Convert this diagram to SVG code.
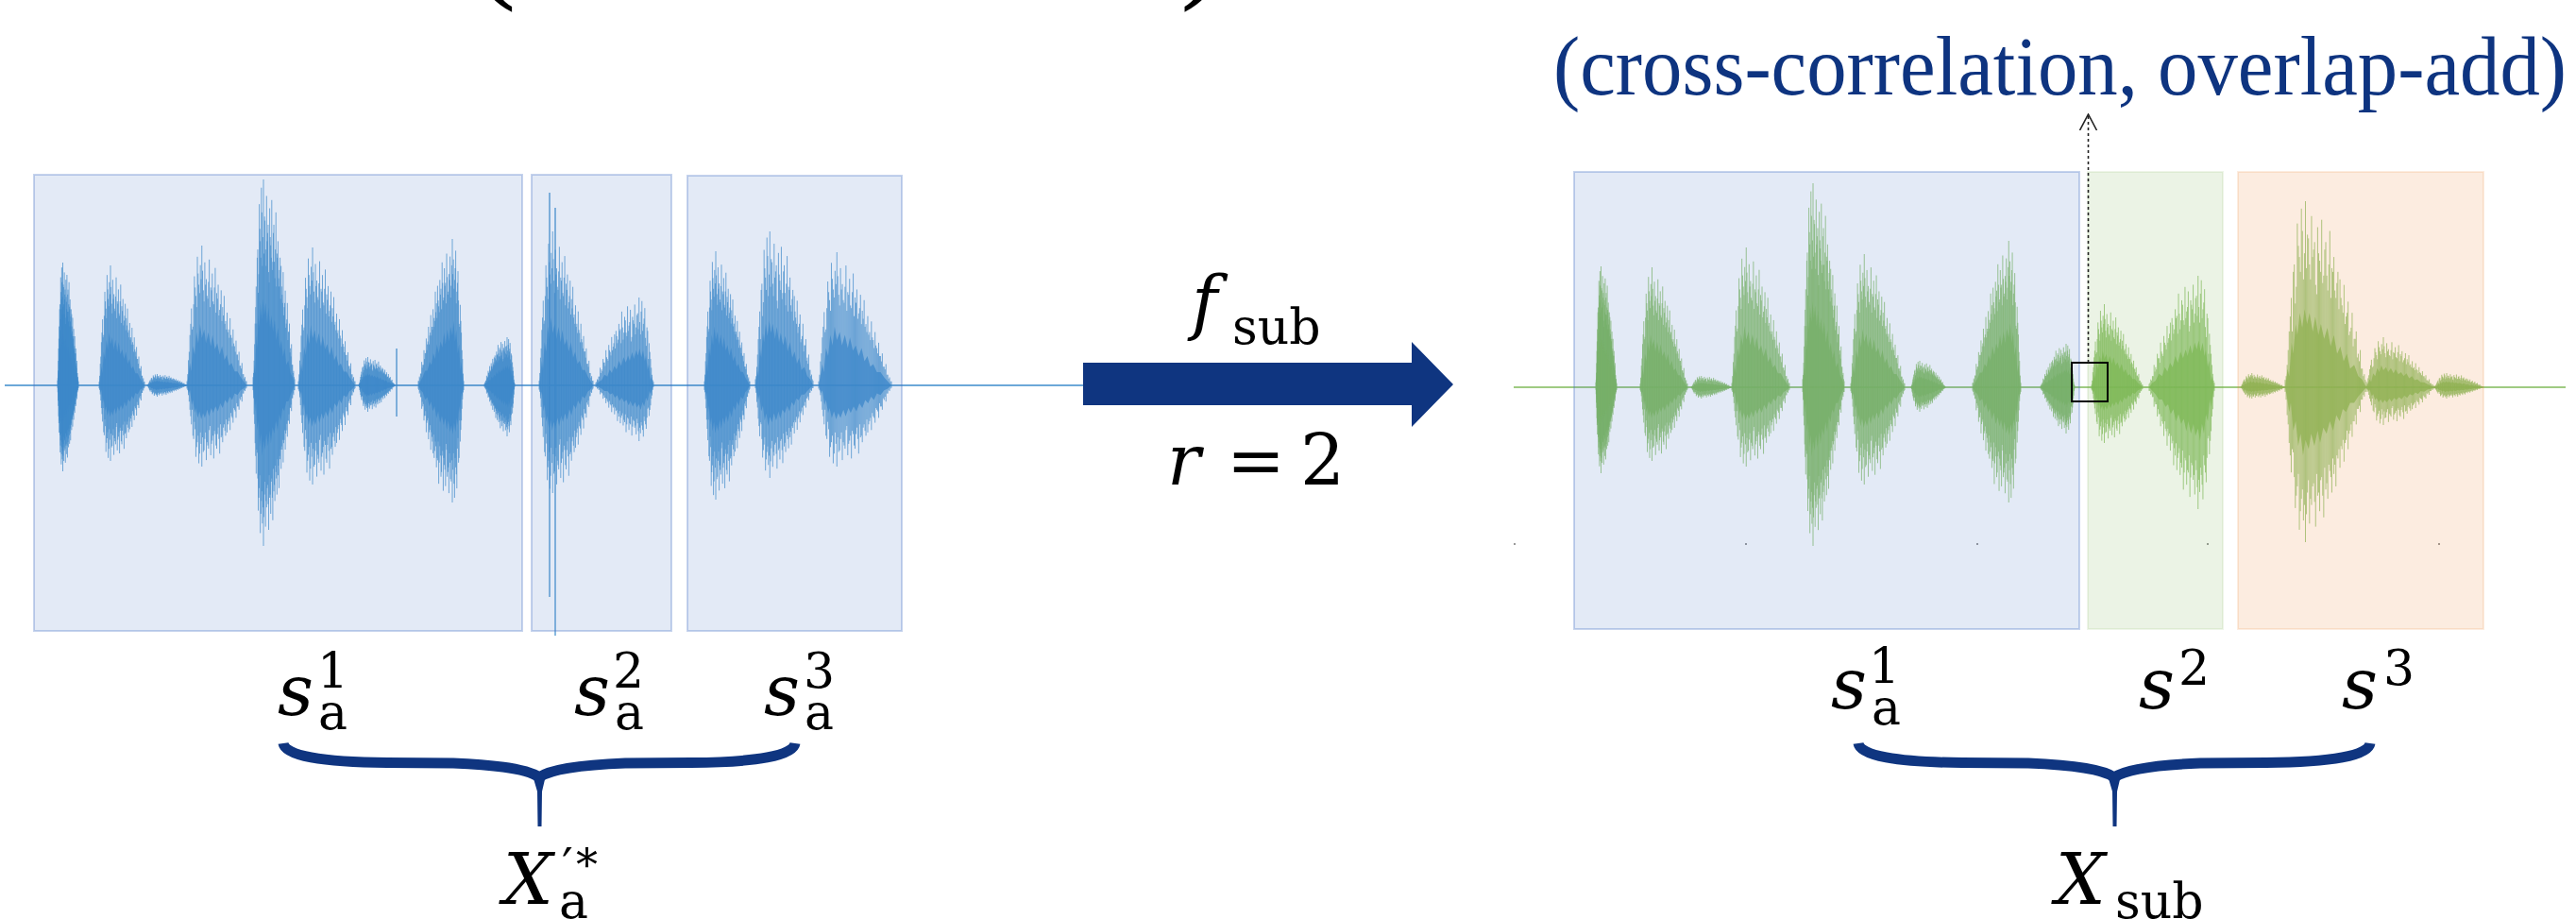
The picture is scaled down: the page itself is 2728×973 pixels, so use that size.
<svg xmlns="http://www.w3.org/2000/svg" width="2728" height="973" viewBox="0 0 2728 973">
<style>
.mi{font-family:"DejaVu Serif",serif;font-style:italic;fill:#000}
.up{font-family:"DejaVu Serif",serif;fill:#000}
.par{font-family:"Liberation Serif","DejaVu Serif",serif;fill:#000}
.title{font-family:"Liberation Serif","DejaVu Serif",serif;fill:#0e3480}
.ovB{fill:#4472c4;fill-opacity:.15;stroke:#4472c4;stroke-opacity:.3;stroke-width:2}
.ovG{fill:#70ad47;fill-opacity:.14;stroke:#70ad47;stroke-opacity:.12;stroke-width:2}
.ovO{fill:#ed7d31;fill-opacity:.15;stroke:#ed7d31;stroke-opacity:.15;stroke-width:2}
.navy{fill:#0f3580}
</style>
<defs>
<g id="hA">
<path fill="none" stroke="currentColor" stroke-width="1" stroke-opacity="0.7" vector-effect="non-scaling-stroke" d="M0 0V-4M2.5 0V-12M5 0V-30M7.5 0V-48M10 0V-62M12.5 0V-45M15 0V-88M17.5 0V-70M20 0V-96M22.5 0V-58M25 0V-100M27.5 0V-82M30 0V-66M32.5 0V-92M35 0V-74M37.5 0V-55M40 0V-86M42.5 0V-68M45 0V-90M47.5 0V-60M50 0V-78M52.5 0V-52M55 0V-84M57.5 0V-64M60 0V-70M62.5 0V-48M65 0V-62M67.5 0V-58M70 0V-44M72.5 0V-55M75 0V-38M77.5 0V-46M80 0V-30M82.5 0V-40M85 0V-26M87.5 0V-30M90 0V-18M92.5 0V-20M95 0V-10M97.5 0V-7M100 0V-3M1.25 0V-6M3.75 0V-20M6.25 0V-38M8.75 0V-30M11.25 0V-66M13.75 0V-54M16.25 0V-76M18.75 0V-62M21.25 0V-84M23.75 0V-72M26.25 0V-64M28.75 0V-80M31.25 0V-58M33.75 0V-70M36.25 0V-78M38.75 0V-50M41.25 0V-72M43.75 0V-62M46.25 0V-56M48.75 0V-74M51.25 0V-60M53.75 0V-66M56.25 0V-48M58.75 0V-62M61.25 0V-52M63.75 0V-56M66.25 0V-42M68.75 0V-48M71.25 0V-40M73.75 0V-34M76.25 0V-40M78.75 0V-28M81.25 0V-32M83.75 0V-22M86.25 0V-26M88.75 0V-16M91.25 0V-14M93.75 0V-10M96.25 0V-6M98.75 0V-4"/>
<path fill="currentColor" fill-opacity="0.75" d="M0 0L3 -10L5 -6L8 -24L10 -18L13 -34L15 -28L18 -40L21 -32L24 -42L27 -34L30 -40L34 -30L37 -38L41 -28L44 -34L48 -26L52 -32L56 -22L60 -28L64 -18L68 -22L72 -14L76 -18L80 -10L85 -12L90 -6L95 -4L100 0Z"/>
</g>
<g id="hB">
<path fill="none" stroke="currentColor" stroke-width="1" stroke-opacity="0.7" vector-effect="non-scaling-stroke" d="M0 0V-3M2.5 0V-18M5 0V-36M7.5 0V-55M10 0V-42M12.5 0V-78M15 0V-64M17.5 0V-92M20 0V-72M22.5 0V-86M25 0V-100M27.5 0V-68M30 0V-88M32.5 0V-76M35 0V-62M37.5 0V-90M40 0V-70M42.5 0V-80M45 0V-58M47.5 0V-84M50 0V-66M52.5 0V-72M55 0V-54M57.5 0V-68M60 0V-56M62.5 0V-64M65 0V-46M67.5 0V-52M70 0V-40M72.5 0V-48M75 0V-34M77.5 0V-40M80 0V-28M82.5 0V-32M85 0V-22M87.5 0V-24M90 0V-14M92.5 0V-16M95 0V-8M97.5 0V-6M100 0V-3M1.25 0V-8M3.75 0V-24M6.25 0V-44M8.75 0V-40M11.25 0V-58M13.75 0V-70M16.25 0V-56M18.75 0V-80M21.25 0V-66M23.75 0V-76M26.25 0V-82M28.75 0V-60M31.25 0V-72M33.75 0V-64M36.25 0V-74M38.75 0V-56M41.25 0V-68M43.75 0V-60M46.25 0V-70M48.75 0V-52M51.25 0V-62M53.75 0V-50M56.25 0V-58M58.75 0V-46M61.25 0V-50M63.75 0V-44M66.25 0V-40M68.75 0V-38M71.25 0V-34M73.75 0V-36M76.25 0V-28M78.75 0V-30M81.25 0V-24M83.75 0V-22M86.25 0V-18M88.75 0V-14M91.25 0V-12M93.75 0V-8M96.25 0V-5M98.75 0V-3"/>
<path fill="currentColor" fill-opacity="0.75" d="M0 0L2 -6L5 -16L7 -10L10 -28L13 -22L16 -38L19 -30L22 -44L25 -34L29 -40L32 -30L36 -38L40 -28L43 -36L47 -26L51 -30L55 -22L59 -28L63 -18L67 -22L71 -14L75 -16L80 -10L85 -10L90 -6L95 -3L100 0Z"/>
</g>
<g id="brace">
<path fill="none" stroke="#0f3580" stroke-width="11" d="M300 787C302 800 340 807 410 807.5L480 808C530 810 560 815 571 823M842 787C840 800 802 807 732 807.5L662 808C612 810 582 815 571 823"/>
<path class="navy" d="M564 821L578 821L574 838L573.5 875L569.5 875L569 838Z"/>
</g>
<marker id="vhead" viewBox="0 0 18 20" refX="17" refY="10" markerWidth="18" markerHeight="20" markerUnits="userSpaceOnUse" orient="auto">
<path d="M0 1L17 10L0 19" fill="none" stroke="#222" stroke-width="1.6"/>
</marker>
</defs>
<rect width="2728" height="973" fill="#fff"/>

<g id="cutoff-top">
<text class="par" x="500" y="-17" font-size="140">(</text>
<text class="par" x="1250" y="-17" font-size="140">)</text>
</g>

<g id="left-signal">
<g id="left-waveform" color="#3b8bcb">
<line x1="5" y1="408" x2="1147" y2="408" stroke="#3b8bcb" stroke-width="1.5"/>
<use href="#hA" transform="translate(61 408) scale(.22 1.30)"/><use href="#hB" transform="translate(61 408) scale(.22 -.91)"/>
<use href="#hB" transform="translate(105 408) scale(.48 1.27)"/><use href="#hA" transform="translate(105 408) scale(.48 -.80)"/>
<use href="#hA" transform="translate(156 408) scale(.42 .12)"/><use href="#hB" transform="translate(156 408) scale(.42 -.12)"/>
<use href="#hB" transform="translate(198 408) scale(.63 1.48)"/><use href="#hA" transform="translate(198 408) scale(.63 -.86)"/>
<use href="#hA" transform="translate(268 408) scale(.44 2.18)"/><use href="#hB" transform="translate(268 408) scale(.44 -1.70)"/>
<use href="#hB" transform="translate(316 408) scale(.60 1.46)"/><use href="#hA" transform="translate(316 408) scale(.60 -1.05)"/>
<use href="#hA" transform="translate(380 408) scale(.38 .30)"/><use href="#hB" transform="translate(380 408) scale(.38 -.28)"/>
<use href="#hB" transform="translate(491 408) scale(-.48 1.55)"/><use href="#hA" transform="translate(491 408) scale(-.48 -1.24)"/>
<use href="#hA" transform="translate(545 408) scale(-.32 .51)"/><use href="#hB" transform="translate(545 408) scale(-.32 -.54)"/>
<use href="#hB" transform="translate(571 408) scale(.57 1.63)"/><use href="#hA" transform="translate(571 408) scale(.57 -1.14)"/>
<use href="#hA" transform="translate(692 408) scale(-.61 .93)"/><use href="#hB" transform="translate(692 408) scale(-.61 -.59)"/>
<use href="#hB" transform="translate(746 408) scale(.48 1.42)"/><use href="#hA" transform="translate(746 408) scale(.48 -1.21)"/>
<use href="#hA" transform="translate(800 408) scale(.61 1.63)"/><use href="#hB" transform="translate(800 408) scale(.61 -.98)"/>
<use href="#hB" transform="translate(867 408) scale(.77 1.41)"/><use href="#hA" transform="translate(867 408) scale(.77 -.86)"/>
<path d="M582 204V632M588 220V673M420 369V441" stroke="#3b8bcb" stroke-width="1.2" fill="none"/>
</g>
<rect id="seg-a1" class="ovB" x="36" y="185" width="517" height="483"/>
<rect id="seg-a2" class="ovB" x="563" y="185" width="148" height="483"/>
<rect id="seg-a3" class="ovB" x="728" y="186" width="227" height="482"/>
</g>

<g id="transform-arrow">
<polygon class="navy" points="1147,384 1495,384 1495,362 1539,407 1495,452 1495,429 1147,429"/>
<text class="mi" x="1262" y="345" font-size="74">f</text>
<text class="up" x="1305" y="364" font-size="52">sub</text>
<text class="mi" x="1236" y="513" font-size="74">r</text>
<text class="up" x="1299" y="513" font-size="74">=</text>
<text class="up" x="1377" y="513" font-size="74">2</text>
</g>

<g id="right-signal">
<g id="right-waveform" color="#74b44a" opacity="0.92">
<line x1="1603" y1="410" x2="2717" y2="410" stroke="#74b44a" stroke-width="1.5"/>
<use href="#hA" transform="translate(1690 410) scale(.22 1.28)"/><use href="#hB" transform="translate(1690 410) scale(.22 -.91)"/>
<use href="#hB" transform="translate(1737 410) scale(.50 1.27)"/><use href="#hA" transform="translate(1737 410) scale(.50 -.78)"/>
<use href="#hA" transform="translate(1791 410) scale(.43 .12)"/><use href="#hB" transform="translate(1791 410) scale(.43 -.12)"/>
<use href="#hB" transform="translate(1834 410) scale(.61 1.48)"/><use href="#hA" transform="translate(1834 410) scale(.61 -.84)"/>
<use href="#hA" transform="translate(1909 410) scale(.44 2.16)"/><use href="#hB" transform="translate(1909 410) scale(.44 -1.68)"/>
<use href="#hB" transform="translate(1960 410) scale(.57 1.41)"/><use href="#hA" transform="translate(1960 410) scale(.57 -1.03)"/>
<use href="#hA" transform="translate(2024 410) scale(.36 .28)"/><use href="#hB" transform="translate(2024 410) scale(.36 -.26)"/>
<use href="#hB" transform="translate(2140 410) scale(-.51 1.55)"/><use href="#hA" transform="translate(2140 410) scale(-.51 -1.22)"/>
<use href="#hA" transform="translate(2197 410) scale(-.36 .46)"/><use href="#hB" transform="translate(2197 410) scale(-.36 -.49)"/>
<use href="#hB" transform="translate(2215 410) scale(.54 .88)"/><use href="#hA" transform="translate(2215 410) scale(.54 -.59)"/>
<use href="#hA" transform="translate(2345 410) scale(-.69 1.18)"/><use href="#hB" transform="translate(2345 410) scale(-.69 -1.29)"/>
<use href="#hB" transform="translate(2373 410) scale(.47 .15)"/><use href="#hA" transform="translate(2373 410) scale(.47 -.12)"/>
<use href="#hA" transform="translate(2420 410) scale(.86 1.97)"/><use href="#hB" transform="translate(2420 410) scale(.86 -1.64)"/>
<use href="#hB" transform="translate(2506 410) scale(.72 .53)"/><use href="#hA" transform="translate(2506 410) scale(.72 -.40)"/>
<use href="#hA" transform="translate(2578 410) scale(.52 .15)"/><use href="#hB" transform="translate(2578 410) scale(.52 -.12)"/>
</g>
<g id="axis-ticks" fill="#999">
<rect x="1603" y="575" width="2" height="2"/><rect x="1848" y="575" width="2" height="2"/><rect x="2093" y="575" width="2" height="2"/><rect x="2337" y="575" width="2" height="2"/><rect x="2582" y="575" width="2" height="2"/>
</g>
<rect id="seg-sa1" class="ovB" x="1667" y="182" width="535" height="484"/>
<rect id="seg-s2" class="ovG" x="2211" y="182" width="143" height="484"/>
<rect id="seg-s3" class="ovO" x="2370" y="182" width="260" height="484"/>
<rect id="junction-box" x="2194" y="384" width="38" height="41" fill="none" stroke="#000" stroke-width="2"/>
</g>

<g id="connectors">
<line x1="2211.5" y1="384" x2="2211.5" y2="121" stroke="#222" stroke-width="1.6" stroke-dasharray="3 3" marker-end="url(#vhead)"/>
</g>

<g id="label-xcorr">
<text class="title" x="1645" y="100" font-size="88" textLength="1073" lengthAdjust="spacingAndGlyphs">(cross-correlation, overlap-add)</text>
</g>

<g id="left-labels">
<text class="mi" x="294" y="757" font-size="74">s</text><text class="up" x="336" y="728" font-size="52">1</text><text class="up" x="337" y="772" font-size="52">a</text>
<text class="mi" x="608" y="757" font-size="74">s</text><text class="up" x="649" y="728" font-size="52">2</text><text class="up" x="651" y="772" font-size="52">a</text>
<text class="mi" x="809" y="757" font-size="74">s</text><text class="up" x="851" y="728" font-size="52">3</text><text class="up" x="852" y="772" font-size="52">a</text>
</g>
<g id="left-brace"><use href="#brace"/></g>
<g id="label-xa">
<text class="mi" x="533" y="957" font-size="74">X</text>
<text class="up" x="595" y="935" font-size="52">′</text>
<text class="up" x="610" y="932" font-size="46">*</text>
<text class="up" x="592" y="972" font-size="52">a</text>
</g>

<g id="right-labels">
<text class="mi" x="1939" y="750" font-size="74">s</text><text class="up" x="1979" y="723" font-size="52">1</text><text class="up" x="1982" y="767" font-size="52">a</text>
<text class="mi" x="2265" y="750" font-size="74">s</text><text class="up" x="2307" y="725" font-size="52">2</text>
<text class="mi" x="2480" y="750" font-size="74">s</text><text class="up" x="2524" y="725" font-size="52">3</text>
</g>
<g id="right-brace"><use href="#brace" transform="translate(1668 0)"/></g>
<g id="label-xsub">
<text class="mi" x="2177" y="957" font-size="74">X</text>
<text class="up" x="2240" y="972" font-size="52">sub</text>
</g>
</svg>
